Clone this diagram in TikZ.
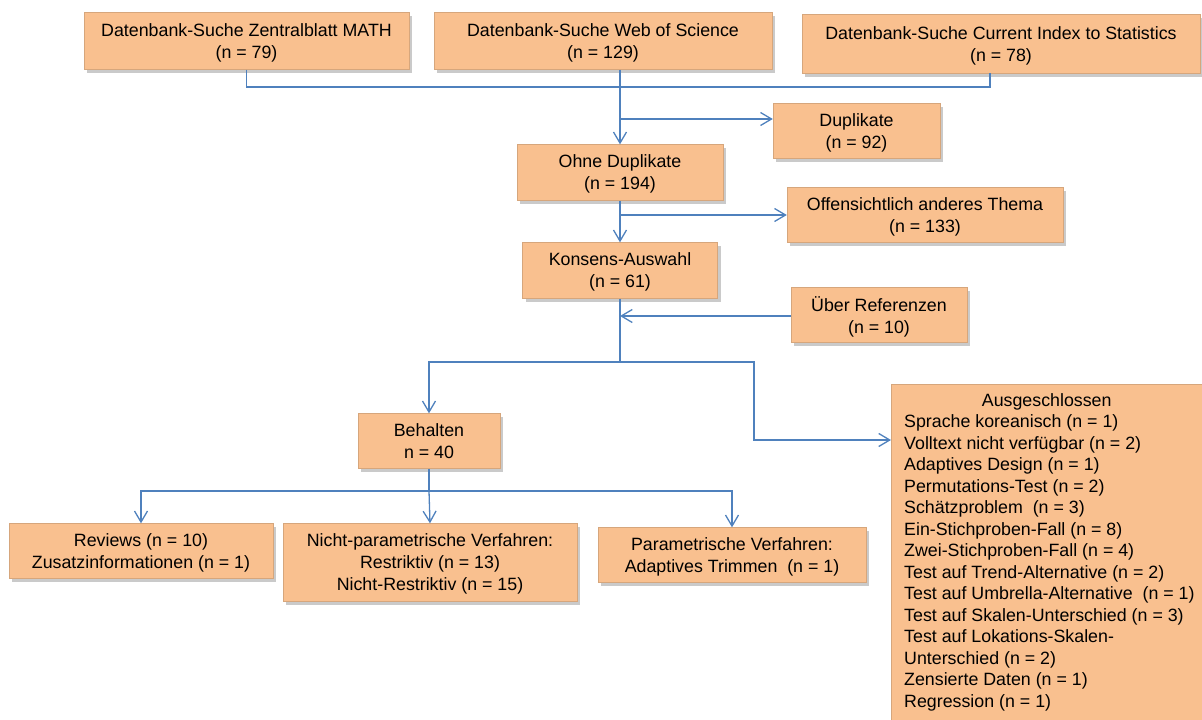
\documentclass[tikz,border=0pt]{standalone}
\usepackage{fontspec}
\setmainfont{Liberation Sans}
\usetikzlibrary{arrows.meta,shadows}
\definecolor{boxfill}{RGB}{249,192,143}
\definecolor{boxline}{RGB}{214,166,124}
\definecolor{linkblue}{RGB}{79,129,189}

\begin{document}
\begin{tikzpicture}[x=1pt,y=-1pt,
    box/.style={draw=boxline,fill=boxfill,align=center,inner sep=0pt,
        font=\fontsize{17.8}{22}\selectfont,
        drop shadow={shadow xshift=3pt,shadow yshift=-3pt,fill=black!35,opacity=0.6}},
    stage/.style={box,text depth=0pt,minimum height=55pt},
    link/.style={draw=linkblue,line width=1.3pt},
    arr/.style={link,-{Straight Barb[length=11pt,width=13pt,line width=1.3pt]}}]
\useasboundingbox (0,0) rectangle (1202,720);
\path
    (246.5,41) node [stage,minimum width=325pt,minimum height=57pt] (zbmath)
        {Datenbank-Suche Zentralblatt MATH\\(n = 79)}
    (603,41) node [stage,minimum width=338pt,minimum height=57pt] (wos)
        {Datenbank-Suche Web of Science\\(n = 129)}
    (1001,44) node [stage,minimum width=398pt,minimum height=59pt] (cis)
        {Datenbank-Suche Current Index to Statistics\\(n = 78)}
    (856.5,131) node [stage,minimum width=167pt] (dupl) {Duplikate\\(n = 92)}
    (620,172.5) node [stage,minimum width=206pt,minimum height=56pt] (ohne)
        {Ohne Duplikate\\(n = 194)}
    (925,215) node [stage,minimum width=276pt] (thema)
        {Offensichtlich anderes Thema\\(n = 133)}
    (620,270.5) node [stage,minimum width=195pt,minimum height=56pt] (konsens)
        {Konsens-Auswahl\\(n = 61)}
    (879,315) node [stage,minimum width=176pt] (refs) {Über Referenzen\\(n = 10)}
    (429,441) node [stage,minimum width=142pt] (behalten) {Behalten\\n = 40}
    (141,551) node [stage,minimum width=264pt] (reviews)
        {Reviews (n = 10)\\Zusatzinformationen (n = 1)}
    (430,562.5) node [stage,minimum width=294pt,minimum height=78pt] (nonpar)
        {Nicht-parametrische Verfahren:\\Restriktiv (n = 13)\\Nicht-Restriktiv (n = 15)}
    (732,555) node [stage,minimum width=268pt] (par)
        {Parametrische Verfahren:\\Adaptives Trimmen\ \ (n = 1)}
    (891,384) node [box,anchor=north west,minimum width=311pt,minimum height=336pt,
        font=\fontsize{17.8}{21.5}\selectfont] (excl)
        {\hspace*{13pt}\parbox[t]{298pt}{\raggedright
         \makebox[285pt]{Ausgeschlossen}\\
         Sprache koreanisch (n = 1)\\
         Volltext nicht verfügbar (n = 2)\\
         Adaptives Design (n = 1)\\
         Permutations-Test (n = 2)\\
         Schätzproblem\ \ (n = 3)\\
         Ein-Stichproben-Fall (n = 8)\\
         Zwei-Stichproben-Fall (n = 4)\\
         Test auf Trend-Alternative (n = 2)\\
         Test auf Umbrella-Alternative\ \ (n = 1)\\
         Test auf Skalen-Unterschied (n = 3)\\
         Test auf Lokations-Skalen-\\
         Unterschied (n = 2)\\
         Zensierte Daten (n = 1)\\
         Regression (n = 1)}};
\coordinate (merge) at (620,87);
\coordinate (cisfoot) at (990,73);
\coordinate (dsplit) at (620,119);
\coordinate (split) at (620,362);
\coordinate (exbend) at (754,440);
\coordinate (split2) at (429,491);
\draw [link] (zbmath.south) |- (merge) -| (cisfoot);
\draw [arr] (ohne.north |- wos.south) -- (ohne.north);
\draw [arr] (dsplit) -- (dsplit -| dupl.west);
\draw [arr] (ohne.south) -- (konsens.north);
\draw [arr] (ohne.south |- thema.west) -- (thema.west);
\draw [arr] (refs.west |- 0,316) -- (konsens.south |- 0,316);
\draw [link] (konsens.south) -- (split);
\draw [arr] (split) -| (behalten.north);
\draw [arr] (split) -| (exbend) -- (exbend -| excl.west);
\draw [link] (behalten.south) -- (split2);
\draw [arr] (split2) -| (reviews.north);
\draw [arr] (split2) -- (nonpar.north);
\draw [arr] (split2) -| (par.north);
\end{tikzpicture}
\end{document}
